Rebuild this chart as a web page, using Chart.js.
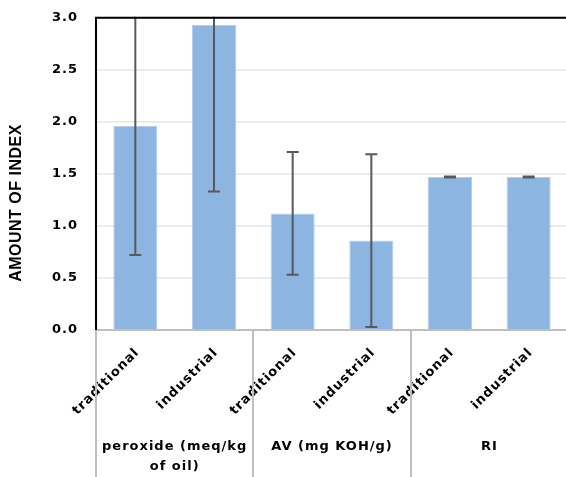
<!DOCTYPE html>
<html>
<head>
<meta charset="utf-8">
<script src="https://cdn.jsdelivr.net/npm/chart.js@4.4.0/dist/chart.umd.min.js"></script>
<style>
  html, body { margin: 0; padding: 0; background: #fff; overflow: hidden; }
  #wrap { position: relative; width: 572px; height: 485px; margin-top: -8px; }
</style>
</head>
<body>
<div id="wrap"><canvas id="graph"></canvas></div>
<script>
// donnees
const categories = ["traditional", "industrial", "traditional", "industrial", "traditional", "industrial"];
const groupes = [["peroxide (meq/kg", "of oil)"], "AV (mg KOH/g)", "RI"];
const moyennes = [1.96, 2.93, 1.12, 0.86, 1.47, 1.47];
const erreurs = [1.24, 1.60, 0.59, 0.83, 0.005, 0.005];
const yTicks = [0, 0.5, 1.0, 1.5, 2.0, 2.5, 3.0];

const police = "'DejaVu Sans', sans-serif";

// espacement des lettres (texte type Calibri)
const espacement = {
    id: 'espacement',
    beforeDraw(chart) { chart.ctx.letterSpacing = '1px'; }
};

// barres d'erreur
const errorBars = {
    id: 'errorBars',
    afterDatasetsDraw(chart) {
        const ctx = chart.ctx;
        const meta = chart.getDatasetMeta(0);
        const y = chart.scales.y;
        const a = chart.chartArea;
        ctx.save();
        ctx.beginPath();
        ctx.rect(a.left, a.top - 1, a.right - a.left, a.bottom - a.top + 2);
        ctx.clip();
        ctx.strokeStyle = '#595959';
        ctx.lineWidth = 2;
        meta.data.forEach((bar, i) => {
            const yh = y.getPixelForValue(moyennes[i] + erreurs[i]);
            const yl = y.getPixelForValue(moyennes[i] - erreurs[i]);
            ctx.beginPath();
            ctx.moveTo(bar.x, yh); ctx.lineTo(bar.x, yl);
            ctx.moveTo(bar.x - 6, yh); ctx.lineTo(bar.x + 6, yh);
            ctx.moveTo(bar.x - 6, yl); ctx.lineTo(bar.x + 6, yl);
            ctx.stroke();
        });
        ctx.restore();
    }
};

// separateurs des groupes + bordures + titre Y
const cadre = {
    id: 'cadre',
    afterDraw(chart) {
        const ctx = chart.ctx;
        const a = chart.chartArea;
        const x = chart.scales.x;
        ctx.save();
        ctx.strokeStyle = '#bfbfbf';
        ctx.lineWidth = 2;
        ctx.beginPath();
        ctx.moveTo(a.left - 1, a.bottom); ctx.lineTo(a.right, a.bottom);
        for (let g = 0; g <= groupes.length; g++) {
            const px = Math.round(x.getPixelForValue(g * 2 - 0.5));
            ctx.moveTo(px, a.bottom); ctx.lineTo(px, chart.height);
        }
        ctx.stroke();
        ctx.strokeStyle = '#000';
        ctx.lineWidth = 2;
        ctx.beginPath();
        ctx.moveTo(a.left, a.bottom); ctx.lineTo(a.left, a.top);
        ctx.lineTo(a.right, a.top);
        ctx.stroke();
        // titre de l'axe Y
        ctx.translate(17, 211);
        ctx.rotate(-Math.PI / 2);
        ctx.fillStyle = '#000';
        ctx.letterSpacing = '0.5px';
        ctx.font = "bold 16px 'Liberation Sans', sans-serif";
        ctx.textAlign = 'center';
        ctx.textBaseline = 'middle';
        ctx.fillText('AMOUNT OF INDEX', 0, 0);
        ctx.restore();
    }
};

new Chart(document.getElementById('graph'), {
    type: 'bar',
    data: {
        labels: categories,
        datasets: [{
            data: moyennes,
            backgroundColor: '#8cb5e1',
            borderColor: '#b5cfec',
            borderWidth: 1,
            barPercentage: 0.56,
            categoryPercentage: 1.0
        }]
    },
    options: {
        responsive: true,
        maintainAspectRatio: false,
        animation: false,
        events: [],
        layout: { padding: { top: 9, left: 0, right: 4, bottom: 0 } },
        plugins: { legend: { display: false }, tooltip: { enabled: false } },
        scales: {
            x: {
                position: 'bottom',
                grid: { display: false, drawTicks: false },
                border: { display: false },
                ticks: {
                    color: '#000',
                    font: { family: police, size: 13, weight: 'bold' },
                    minRotation: 45, maxRotation: 45,
                    padding: 15,
                    labelOffset: 2,
                    autoSkip: false
                },
                afterFit(s) { s.height = 100; }
            },
            groupe: {
                type: 'category',
                position: 'bottom',
                labels: groupes,
                offset: true,
                grid: { display: false, drawTicks: false },
                border: { display: false },
                ticks: {
                    color: '#000',
                    font: { family: police, size: 13, weight: 'bold', lineHeight: 1.5 },
                    maxRotation: 0, minRotation: 0,
                    padding: 7,
                    autoSkip: false
                },
                afterFit(s) { s.height = 47; }
            },
            y: {
                min: 0, max: 3,
                afterBuildTicks(s) { s.ticks = yTicks.map(v => ({ value: v })); },
                grid: { color: '#ececec', lineWidth: 2, drawTicks: false },
                border: { display: false },
                ticks: {
                    color: '#000',
                    font: { family: police, size: 13, weight: 'bold' },
                    padding: 18,
                    callback: v => v.toFixed(1)
                },
                afterFit(s) { s.width = 96; }
            }
        }
    },
    plugins: [espacement, errorBars, cadre]
});
</script>
</body>
</html>
